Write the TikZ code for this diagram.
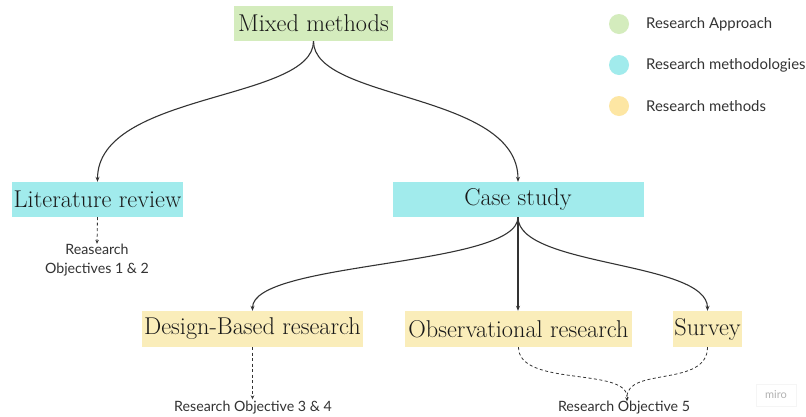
\documentclass[tikz,border=0pt]{standalone}
\usepackage{fontspec}
\newfontfamily\lbl{Lato}
\usetikzlibrary{arrows.meta}
\definecolor{gfill}{HTML}{D4ECBD}
\definecolor{cfill}{HTML}{A1EBEC}
\definecolor{yfill}{HTML}{FAEDBA}
\definecolor{ylegend}{HTML}{FDE6A3}
\definecolor{ink}{HTML}{333333}
\tikzset{
  box/.style={inner sep=0pt, minimum height=35pt, text=black!90,
    font=\fontsize{24.3}{27}\selectfont},
  conn/.style={draw=ink, line width=1.1pt, -{Stealth[length=5pt,width=4pt]}},
  dconn/.style={draw=ink, line width=0.8pt, dash pattern=on 3pt off 2.5pt,
    -{Stealth[length=4pt,width=3.5pt]}},
  txt/.style={inner sep=0pt, text=ink, font=\lbl\fontsize{14.2}{19}\selectfont, align=center},
  legtxt/.style={inner sep=0pt, text=ink, anchor=west, font=\lbl\fontsize{14.9}{17}\selectfont},
}
\begin{document}
\begin{tikzpicture}[x=1pt,y=-1pt]
\useasboundingbox[fill=white] (0,0) rectangle (806,416);
% boxes
\node[box, fill=gfill, minimum width=159pt] (mm) at (313.5,23.5) {Mixed methods};
\node[box, fill=cfill, minimum width=171pt] (lr) at (97.5,199.5) {Literature review};
\node[box, fill=cfill, minimum width=251pt] (cs) at (518,199.5) {Case study};
\node[box, fill=yfill, minimum width=221pt, minimum height=36pt] (db) at (252.5,329) {Design-Based research};
\node[box, fill=yfill, minimum width=227pt, minimum height=36pt] (ob) at (518.5,329) {Observational research};
\node[box, fill=yfill, minimum width=69pt, minimum height=36pt] (sv) at (707.5,329) {Survey};
% objective labels
\node[txt] (o12) at (97,260) {Reasearch\\Objectives 1 \& 2};
\node[txt] (o34) at (253,408) {Research Objective 3 \& 4};
\node[txt] (o5) at (624,408) {Research Objective 5};
\coordinate (m5) at (627,397);
% connectors
\draw[conn] (mm.south) .. controls +(0,60) and +(0,-90) .. (lr.north);
\draw[conn] (mm.south) .. controls +(0,60) and +(0,-90) .. (cs.north);
\draw[conn] (cs.south) .. controls +(0,50) and +(0,-50) .. (db.north);
\draw[conn] (cs.south) -- (cs.south |- ob.north);
\draw[conn] (cs.south) .. controls +(0,50) and +(0,-50) .. (sv.north);
\draw[dconn] (lr.south) -- (o12.north);
\draw[dconn, shorten >=2pt] (db.south) -- (db.south |- o34.north);
\draw[dconn, -] (ob.south) .. controls +(0,40) and +(0,-30) .. (m5);
\draw[dconn, -] (sv.south) .. controls +(0,40) and +(0,-30) .. (m5);
\draw[dconn] (m5) -- (m5 |- o5.north);
% legend
\fill[gfill] (619,24) circle (10pt);
\fill[cfill] (619,65) circle (10pt);
\fill[ylegend] (619,106) circle (10pt);
\node[legtxt] (l1) at (646,24) {Research Approach};
\node[legtxt] (l2) at (646,65) {Research methodologies};
\node[legtxt] (l3) at (646,106) {Research methods};
% watermark
\node[draw=black!4, fill=white, inner sep=3pt, text=black!30, font=\lbl\fontsize{11}{12}\selectfont, minimum width=40pt, minimum height=22pt] (miro) at (776,395) {miro};
\end{tikzpicture}
\end{document}
